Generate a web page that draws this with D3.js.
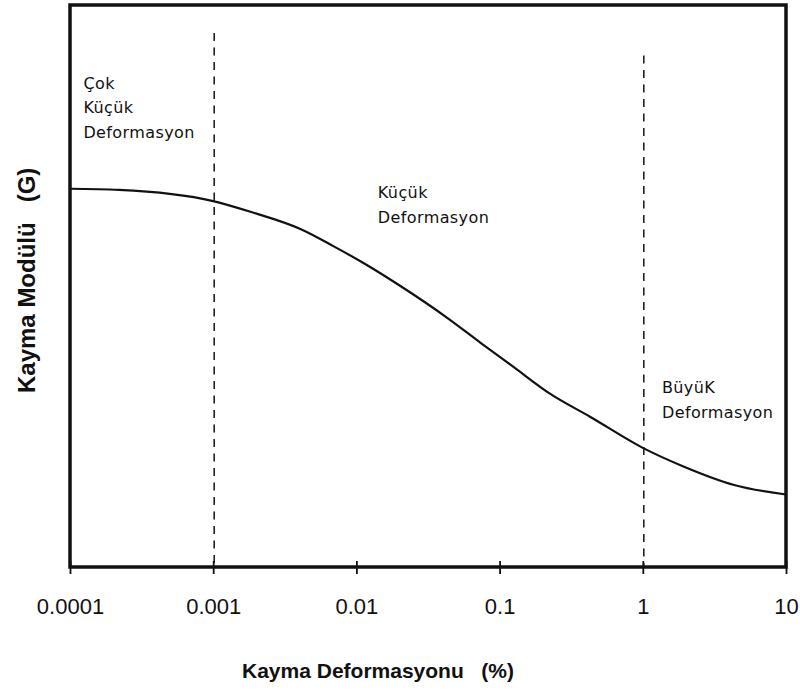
<!DOCTYPE html>
<html>
<head>
<meta charset="utf-8">
<script src="https://cdn.jsdelivr.net/npm/d3@7"></script>
<style>
  html, body { margin: 0; padding: 0; background: #fff; }
  svg { display: block; }
  text { fill: #111; }
</style>
</head>
<body>
<svg id="chart" width="800" height="690"></svg>
<script>
// Shear strain (%) along the log axis
const strain = [0.0001, 0.00022, 0.001, 0.00182, 0.0041, 0.0069, 0.0119, 0.0203, 0.0433,
                0.0736, 0.125, 0.226, 0.431, 1.0, 1.94, 4.34, 10];
// Shear modulus G (relative units, 0–100)
const modulus = [67.3, 67.1, 65.1, 63.2, 60.1, 57.1, 53.7, 50.0, 44.3,
                 39.9, 35.6, 30.8, 26.7, 21.2, 17.85, 14.6, 12.9];
// Decade tick labels on the strain axis
const tickValues = [0.0001, 0.001, 0.01, 0.1, 1, 10];
const tickLabels = ["0.0001", "0.001", "0.01", "0.1", "1", "10"];
// Boundaries between deformation zones
const zoneBounds = [0.001, 1];
const zoneTops = [95, 91];
// Zone annotations: strain at left edge of text, G at first baseline, lines
const zoneNotes = [
  { x: 0.000124, g: 85.1, lines: ["Çok", "Küçük", "Deformasyon"] },
  { x: 0.0141, g: 65.6, lines: ["Küçük", "Deformasyon"] },
  { x: 1.36, g: 30.9, lines: ["BüyüK", "Deformasyon"] }
];

const svg = d3.select("#chart");
const plotLeft = 70, plotRight = 786, plotTop = 5, plotBottom = 567;

const x = d3.scaleLog().domain([0.0001, 10]).range([plotLeft, plotRight]);
const y = d3.scaleLinear().domain([0, 100]).range([plotBottom, plotTop]);

// Zone boundaries
svg.selectAll("line.zone")
  .data(zoneBounds)
  .join("line")
  .attr("class", "zone")
  .attr("x1", d => x(d) + 1).attr("x2", d => x(d) + 1)
  .attr("y1", (d, i) => y(zoneTops[i])).attr("y2", plotBottom)
  .attr("stroke", "#222")
  .attr("stroke-width", 1.6)
  .attr("stroke-dasharray", "8,6.5");

// Modulus reduction curve
const line = d3.line()
  .x((d, i) => x(strain[i]))
  .y(d => y(d))
  .curve(d3.curveMonotoneX);

svg.append("path")
  .datum(modulus)
  .attr("d", line)
  .attr("fill", "none")
  .attr("stroke", "#111")
  .attr("stroke-width", 2.2)
  .attr("stroke-linejoin", "round");

// Frame
svg.append("rect")
  .attr("x", plotLeft).attr("y", plotTop)
  .attr("width", plotRight - plotLeft).attr("height", plotBottom - plotTop)
  .attr("fill", "none")
  .attr("stroke", "#111")
  .attr("stroke-width", 3.5);

// Strain axis
const axis = d3.axisBottom(x)
  .tickValues(tickValues)
  .tickFormat((d, i) => tickLabels[i])
  .tickSizeInner(7)
  .tickSizeOuter(0)
  .tickPadding(24);

const gx = svg.append("g")
  .attr("transform", `translate(0,${plotBottom})`)
  .call(axis);
gx.select(".domain").remove();
gx.selectAll(".tick line")
  .attr("y1", -6)
  .attr("stroke", "#111")
  .attr("stroke-width", 1.8);
gx.selectAll(".tick text")
  .attr("font-family", "Liberation Sans, Arial, sans-serif")
  .attr("font-size", 22)
  .attr("fill", "#111");

// Axis titles
svg.append("text")
  .attr("x", 242).attr("y", 678)
  .attr("font-family", "Liberation Sans, Arial, sans-serif")
  .attr("font-weight", "bold")
  .attr("font-size", 21)
  .style("white-space", "pre")
  .text("Kayma Deformasyonu   (%)");

svg.append("text")
  .attr("transform", "translate(35,393) rotate(-90)")
  .attr("font-family", "Liberation Sans, Arial, sans-serif")
  .attr("font-weight", "bold")
  .attr("font-size", 24)
  .style("white-space", "pre")
  .text("Kayma Modülü   (G)");

// Zone annotations
zoneNotes.forEach(n => {
  const t = svg.append("text")
    .attr("font-family", "DejaVu Sans, sans-serif")
    .attr("font-size", 16)
    .attr("letter-spacing", 0.4);
  n.lines.forEach((s, i) => {
    t.append("tspan")
      .attr("x", x(n.x))
      .attr("y", y(n.g) + i * 24.5)
      .text(s);
  });
});
</script>
</body>
</html>
